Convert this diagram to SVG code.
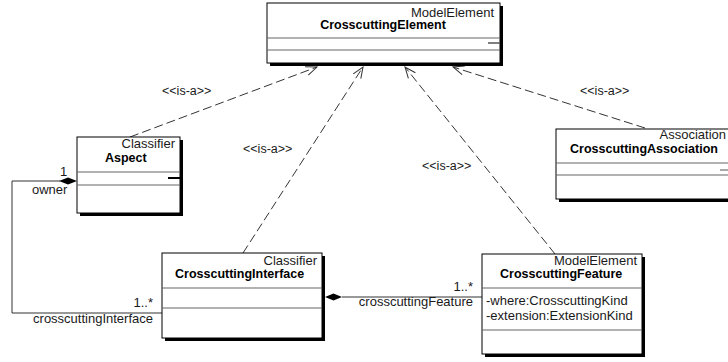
<svg xmlns="http://www.w3.org/2000/svg" width="728" height="362" viewBox="0 0 728 362">
<style>
  text { font-family: "Liberation Sans", Arial, sans-serif; fill: #1a1a1a; }
  .st { font-size: 13px; }
  .nm { font-size: 12.5px; font-weight: bold; fill: #000; }
  .lb { font-size: 13px; }
  .isa { font-size: 12.5px; }
  .box { fill: #fff; stroke: #000; stroke-width: 1; }
  .sh { fill: #000; }
  .cmp { stroke: #666; stroke-width: 1.2; }
  .dash { fill: none; stroke: #333; stroke-width: 1; stroke-dasharray: 9 4; }
  .solid { fill: none; stroke: #333; stroke-width: 1; }
</style>
<defs>
  <marker id="open" markerUnits="userSpaceOnUse" markerWidth="14" markerHeight="12" viewBox="-12 -6 14 12" refX="0" refY="0" orient="auto">
    <path d="M -11 -4.5 L 0 0 L -11 4.5" fill="none" stroke="#333" stroke-width="1"/>
  </marker>
</defs>
<rect width="728" height="362" fill="#fff"/>

<g id="connectors">
  <line class="dash" x1="130" y1="137" x2="317" y2="67" marker-end="url(#open)"/>
  <line class="dash" x1="243" y1="253" x2="363" y2="67" marker-end="url(#open)"/>
  <line class="dash" x1="555" y1="254" x2="405" y2="67" marker-end="url(#open)"/>
  <line class="dash" x1="645" y1="128" x2="453" y2="67" marker-end="url(#open)"/>
  <text class="isa" x="162" y="95">&lt;&lt;is-a&gt;&gt;</text>
  <text class="isa" x="243" y="153">&lt;&lt;is-a&gt;&gt;</text>
  <text class="isa" x="422" y="170">&lt;&lt;is-a&gt;&gt;</text>
  <text class="isa" x="580" y="95">&lt;&lt;is-a&gt;&gt;</text>

  <polyline class="solid" points="60,181 12,181 12,313 162,313"/>
  <polygon points="77,181 68,177.5 59,181 68,184.5" fill="#000"/>
  <text class="lb" x="60" y="176">1</text>
  <text class="lb" x="32" y="194">owner</text>
  <text class="lb" x="153" y="307" text-anchor="end">1..*</text>
  <text class="lb" x="153" y="323" text-anchor="end">crosscuttingInterface</text>

  <line class="solid" x1="342" y1="297" x2="482" y2="297"/>
  <polygon points="325,297 333.5,293.5 342,297 333.5,300.5" fill="#000"/>
  <text class="lb" x="473" y="291" text-anchor="end">1..*</text>
  <text class="lb" x="473" y="306" text-anchor="end">crosscuttingFeature</text>
</g>

<g id="CrosscuttingElement">
  <rect class="sh" x="270" y="6" width="233" height="60"/>
  <rect class="box" x="267" y="3" width="233" height="60"/>
  <line class="cmp" x1="267" y1="38" x2="500" y2="38"/>
  <line class="cmp" x1="267" y1="50" x2="500" y2="50"/>
  <line x1="488" y1="43" x2="500" y2="43" stroke="#555" stroke-width="1.5"/>
  <text class="st" x="494" y="17" text-anchor="end">ModelElement</text>
  <text class="nm" x="383" y="29" text-anchor="middle">CrosscuttingElement</text>
</g>

<g id="Aspect">
  <rect class="sh" x="80" y="140" width="103" height="76"/>
  <rect class="box" x="77" y="137" width="103" height="76"/>
  <line class="cmp" x1="77" y1="172" x2="180" y2="172"/>
  <line class="cmp" x1="77" y1="185" x2="180" y2="185"/>
  <line x1="168" y1="178" x2="180" y2="178" stroke="#000" stroke-width="2"/>
  <text class="st" x="175" y="148" text-anchor="end">Classifier</text>
  <text class="nm" x="105" y="162">Aspect</text>
</g>

<g id="CrosscuttingAssociation">
  <rect class="sh" x="559" y="132" width="180" height="70"/>
  <rect class="box" x="556" y="129" width="180" height="70"/>
  <line class="cmp" x1="556" y1="163" x2="736" y2="163" stroke-width="2"/>
  <line class="cmp" x1="556" y1="175" x2="736" y2="175"/>
  <line x1="720" y1="170" x2="728" y2="170" stroke="#555" stroke-width="1"/>
  <text class="st" x="726" y="139" text-anchor="end">Association</text>
  <text class="nm" x="570" y="153">CrosscuttingAssociation</text>
</g>

<g id="CrosscuttingInterface">
  <rect class="sh" x="165" y="256" width="160" height="85"/>
  <rect class="box" x="162" y="253" width="160" height="85"/>
  <line class="cmp" x1="162" y1="288" x2="322" y2="288"/>
  <line class="cmp" x1="162" y1="308" x2="322" y2="308"/>
  <text class="st" x="317" y="265" text-anchor="end">Classifier</text>
  <text class="nm" x="175" y="278">CrosscuttingInterface</text>
</g>

<g id="CrosscuttingFeature">
  <rect class="sh" x="485" y="257" width="160" height="100"/>
  <rect class="box" x="482" y="254" width="160" height="100"/>
  <line class="cmp" x1="482" y1="288" x2="642" y2="288"/>
  <line class="cmp" x1="482" y1="330" x2="642" y2="330"/>
  <text class="st" x="637" y="265" text-anchor="end">ModelElement</text>
  <text class="nm" x="500" y="278">CrosscuttingFeature</text>
  <text class="st" x="486" y="305">-where:CrosscuttingKind</text>
  <text class="st" x="486" y="320">-extension:ExtensionKind</text>
</g>
</svg>
